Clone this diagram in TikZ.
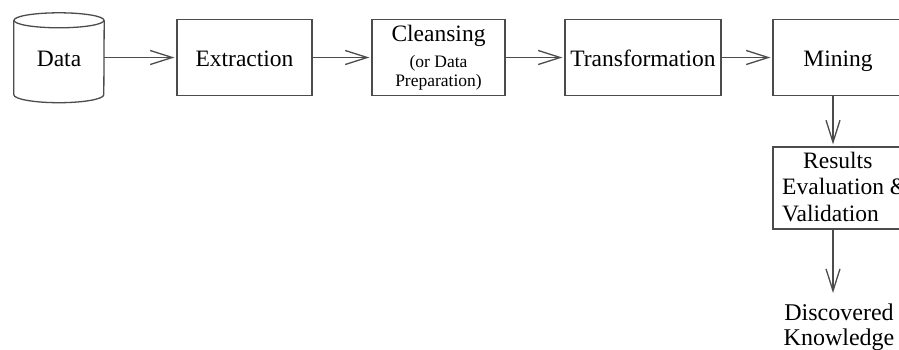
\documentclass[tikz,border=0pt]{standalone}
\usepackage{fontspec}
\setmainfont{Liberation Serif}
\usetikzlibrary{arrows.meta}
\begin{document}
\begin{tikzpicture}[x=1pt,y=1pt,
  line/.style={draw=black!70, line width=1.3pt},
  box/.style={line, rectangle, minimum height=75.5pt, inner sep=0pt,
    font=\fontsize{23.5}{27}\selectfont, text=black, align=center},
  oneline/.style={text height=20pt, text depth=2pt},
  flow/.style={line, shorten >=2pt, -{Straight Barb[length=22pt,width=14pt]}},
  lbl/.style={font=\fontsize{23.5}{27}\selectfont, text=black, inner sep=0pt, align=center}]
\useasboundingbox (0,0) rectangle (899,-349);
\fill[white] (0,0) rectangle (899,-349);
\clip (0,0) rectangle (899,-349);

% data store drawn as a cylinder around its label
\node[lbl, oneline, minimum width=90pt, minimum height=74pt] (data) at (59,-57.5) {Data};
\draw[line] (data.north west) -- (data.south west)
  arc[start angle=180, end angle=360, x radius=45, y radius=8] -- (data.north east);
\draw[line] (data.north) ellipse[x radius=45, y radius=7.5];

% processing steps
\node[box, oneline, minimum width=135pt] (extraction) at (244.5,-57.5) {Extraction};
\node[box, minimum width=133pt] (cleansing) at (438.5,-57.5)
  {Cleansing\\[-1pt]{\fontsize{17.5}{20}\selectfont (or Data}\\[-8pt]{\fontsize{17.5}{20}\selectfont Preparation)}};
\node[box, oneline, minimum width=156pt] (transformation) at (643,-57.5) {Transformation};
\node[box, oneline, minimum width=130pt] (mining) at (838,-57.5) {Mining};

\node[box, minimum width=130pt, minimum height=82pt] (results) at (838,-188) {};
\node[lbl, align=left, anchor=west, font=\fontsize{23.5}{26.5}\selectfont] (resultstext) at (782,-187)
  {\hspace*{21pt}Results\\Evaluation \&\\Validation};

\node[lbl, anchor=north, font=\fontsize{24}{24.5}\selectfont] (knowledge) at (839,-304)
  {Discovered\\Knowledge};

% connectors
\draw[flow] (data.east) -- (extraction.west);
\draw[flow] (extraction.east) -- (cleansing.west);
\draw[flow] (cleansing.east) -- (transformation.west);
\draw[flow] (transformation.east) -- (mining.west);
\draw[flow] ([xshift=-5pt]mining.south) -- ([xshift=-5pt]results.north);
\draw[flow, shorten >=11pt] ([xshift=-5pt]results.south) -- ([xshift=-5pt]results.south |- knowledge.north);
\end{tikzpicture}
\end{document}
